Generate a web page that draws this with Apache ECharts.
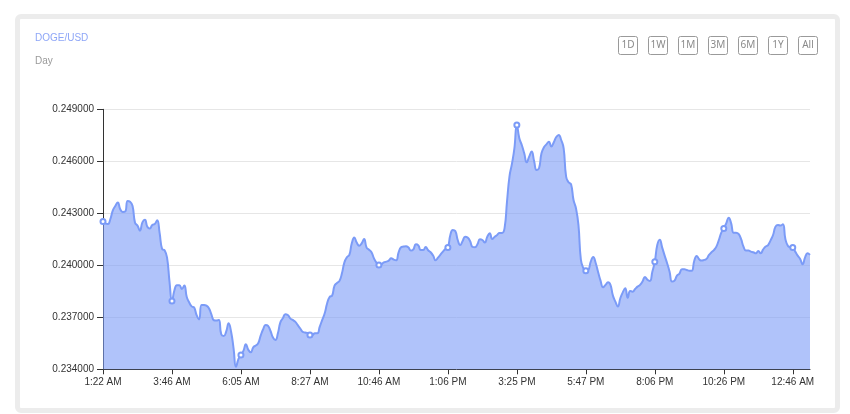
<!DOCTYPE html>
<html>
<head>
<meta charset="utf-8">
<script src="https://cdn.jsdelivr.net/npm/echarts@6/dist/echarts.min.js"></script>
<style>
  html, body { margin: 0; padding: 0; background: #ffffff; }
  #card { position: absolute; left: 15px; top: 14px; width: 825px; height: 399px; box-sizing: border-box; border: 5px solid #ececec; border-radius: 6px; background: #fff; }
  #chart { position: absolute; left: 0; top: 0; width: 850px; height: 414px; }
</style>
</head>
<body>
<div id="card"></div>
<div id="chart"></div>
<script>
const titleText = 'DOGE/USD';
const subtitleText = 'Day';
const rangeButtons = ['1D', '1W', '1M', '3M', '6M', '1Y', 'All'];
const tickLabels = ['1:22 AM', '3:46 AM', '6:05 AM', '8:27 AM', '10:46 AM', '1:06 PM', '3:25 PM', '5:47 PM', '8:06 PM', '10:26 PM', '12:46 AM'];
const yTicks = [0.234, 0.237, 0.240, 0.243, 0.246, 0.249];
const prices = [
  0.24252, 0.24242, 0.24238, 0.24267, 0.24317, 0.24342, 0.24363, 0.24323, 0.24308, 0.24310,
  0.24371, 0.24367, 0.24342, 0.24246, 0.24229, 0.24200, 0.24248, 0.24263, 0.24223, 0.24212,
  0.24233, 0.24238, 0.24260, 0.24185, 0.24094, 0.24087, 0.24044, 0.23906, 0.23794, 0.23856,
  0.23885, 0.23885, 0.23863, 0.23883, 0.23817, 0.23785, 0.23763, 0.23756, 0.23712, 0.23688,
  0.23771, 0.23771, 0.23767, 0.23752, 0.23717, 0.23683, 0.23681, 0.23685, 0.23602, 0.23592,
  0.23617, 0.23665, 0.23617, 0.23521, 0.23415, 0.23460, 0.23483, 0.23506, 0.23544, 0.23512,
  0.23498, 0.23527, 0.23537, 0.23550, 0.23594, 0.23631, 0.23656, 0.23650, 0.23621, 0.23583,
  0.23569, 0.23608, 0.23671, 0.23694, 0.23717, 0.23713, 0.23694, 0.23685, 0.23675, 0.23656,
  0.23637, 0.23617, 0.23612, 0.23610, 0.23598, 0.23598, 0.23608, 0.23608, 0.23646, 0.23685,
  0.23723, 0.23781, 0.23817, 0.23825, 0.23883, 0.23898, 0.23910, 0.23954, 0.24017,
  0.24046, 0.24060, 0.24127, 0.24160, 0.24131, 0.24113, 0.24127, 0.24152, 0.24102, 0.24090,
  0.24075, 0.24040, 0.24015, 0.24002, 0.24006, 0.24017, 0.24021, 0.24027, 0.24040, 0.24033,
  0.24029, 0.24075, 0.24104, 0.24108, 0.24110, 0.24102, 0.24085, 0.24092, 0.24121, 0.24115,
  0.24088, 0.24088, 0.24106, 0.24087, 0.24075, 0.24056, 0.24029, 0.24044, 0.24062, 0.24079,
  0.24094, 0.24102, 0.24175, 0.24204, 0.24198, 0.24146, 0.24117, 0.24140, 0.24165, 0.24160,
  0.24140, 0.24106, 0.24104, 0.24121, 0.24150, 0.24146, 0.24131, 0.24165, 0.24185, 0.24152,
  0.24165, 0.24175, 0.24187, 0.24187, 0.24213, 0.24367, 0.24512, 0.24585, 0.24675, 0.24810,
  0.24733, 0.24694, 0.24646, 0.24594, 0.24627, 0.24656, 0.24602, 0.24550, 0.24560, 0.24646,
  0.24681, 0.24698, 0.24713, 0.24685, 0.24710, 0.24740, 0.24752, 0.24723, 0.24675, 0.24512,
  0.24479, 0.24467, 0.24377, 0.24329, 0.24233, 0.24031, 0.23983, 0.23969,
  0.23973, 0.24021, 0.24048, 0.24013, 0.23960, 0.23910, 0.23873, 0.23887, 0.23902, 0.23887,
  0.23825, 0.23790, 0.23763, 0.23810, 0.23844, 0.23867, 0.23813, 0.23852, 0.23848, 0.23863,
  0.23877, 0.23887, 0.23906, 0.23933, 0.23917, 0.23910, 0.23963, 0.24021, 0.24117, 0.24148,
  0.24102, 0.24056, 0.24012, 0.23963, 0.23906, 0.23912, 0.23940, 0.23952, 0.23977, 0.23977,
  0.23973, 0.23969, 0.23969, 0.24025, 0.24054, 0.24035, 0.24027, 0.24031, 0.24037, 0.24060,
  0.24075, 0.24088, 0.24108, 0.24146, 0.24188, 0.24213, 0.24242, 0.24275, 0.24242, 0.24188,
  0.24188, 0.24181, 0.24152, 0.24108, 0.24085, 0.24085, 0.24079, 0.24075, 0.24069, 0.24083,
  0.24069, 0.24092, 0.24108, 0.24117, 0.24144, 0.24175, 0.24223, 0.24233, 0.24229, 0.24237,
  0.24152, 0.24113, 0.24104, 0.24102, 0.24079, 0.24056, 0.24037, 0.24006, 0.24046, 0.24069,
  0.24060
];
const LABEL_STEP = 28;
const categories = prices.map((_, i) => String(i));

const chart = echarts.init(document.getElementById('chart'), null, { renderer: 'canvas' });

const buttonGraphics = rangeButtons.map((name, k) => ({
  type: 'group',
  left: 618 + k * 30,
  top: 36,
  children: [
    { type: 'rect', shape: { x: 0, y: 0, width: 19, height: 18, r: 2 },
      style: { fill: '#ffffff', stroke: '#9a9a9a', lineWidth: 1 } },
    { type: 'text', x: 9.5, y: 9,
      style: { text: name, fill: '#8a8a8a', font: '10px "Noto Sans", sans-serif', align: 'center', verticalAlign: 'middle' } }
  ]
}));

chart.setOption({
  backgroundColor: 'transparent',
  animation: false,
  textStyle: { fontFamily: '"Liberation Sans", Arial, sans-serif' },
  title: [
    { text: titleText, left: 35, top: 33, padding: 0,
      textStyle: { fontSize: 10, fontWeight: 'normal', color: '#8ea6f7', fontFamily: '"Liberation Sans", Arial, sans-serif' } },
    { text: subtitleText, left: 35, top: 56, padding: 0,
      textStyle: { fontSize: 10, fontWeight: 'normal', color: '#9a9a9a', fontFamily: '"Liberation Sans", Arial, sans-serif' } }
  ],
  graphic: buttonGraphics,
  grid: { left: 103, right: 40, top: 109.3, bottom: 44.7, containLabel: false },
  xAxis: {
    type: 'category',
    data: categories,
    boundaryGap: false,
    axisLine: { lineStyle: { color: '#333333', width: 1 } },
    axisTick: { interval: LABEL_STEP - 1, length: 5, lineStyle: { color: '#333333' } },
    axisLabel: {
      interval: LABEL_STEP - 1,
      color: '#333333',
      fontSize: 10,
      margin: 8,
      formatter: (val, idx) => (idx % LABEL_STEP === 0 ? (tickLabels[idx / LABEL_STEP] || '') : '')
    },
    splitLine: { show: false }
  },
  yAxis: {
    type: 'value',
    min: yTicks[0],
    max: yTicks[yTicks.length - 1],
    interval: 0.003,
    axisLine: { show: true, lineStyle: { color: '#333333', width: 1 } },
    axisTick: { show: true, length: 6, lineStyle: { color: '#333333' } },
    axisLabel: { color: '#333333', fontSize: 10, margin: 9, formatter: v => v.toFixed(6) },
    splitLine: { show: true, lineStyle: { color: '#e6e6e6', width: 1 } }
  },
  series: [{
    type: 'line',
    data: prices,
    smooth: true,
    symbol: 'emptyCircle',
    symbolSize: 5,
    showSymbol: true,
    lineStyle: { color: '#7b9bf7', width: 2 },
    itemStyle: { color: '#7b9bf7', borderColor: '#8fabf9', borderWidth: 1 },
    areaStyle: { color: '#7b9bf7', opacity: 0.6 },
    z: 2
  }]
});
</script>
</body>
</html>
